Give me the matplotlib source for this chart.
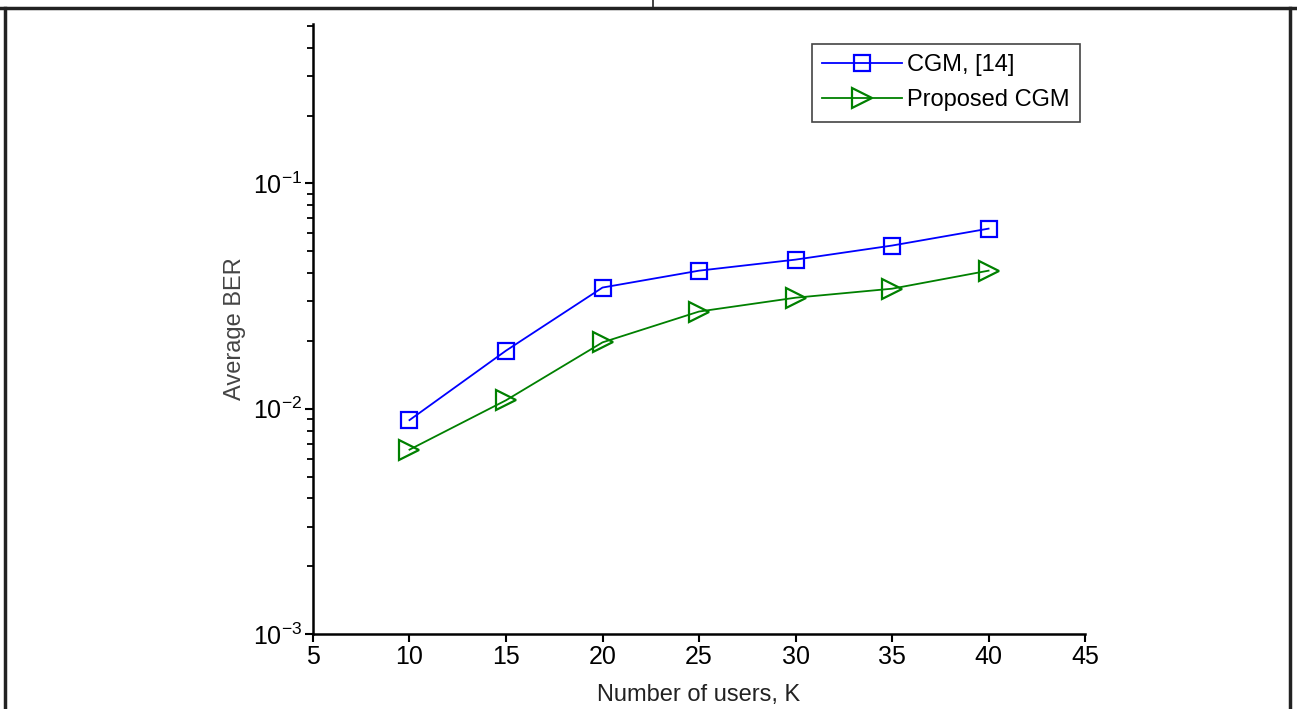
import matplotlib
matplotlib.use("Agg")
import matplotlib.pyplot as plt
from matplotlib.lines import Line2D

plt.rcParams['font.family'] = ['Liberation Sans', 'DejaVu Sans']
plt.rcParams['mathtext.fontset'] = 'custom'
plt.rcParams['mathtext.rm'] = 'Liberation Sans'
plt.rcParams['mathtext.it'] = 'Liberation Sans'

# data
users = [10, 15, 20, 25, 30, 35, 40]
ber_cgm = [0.0089, 0.0181, 0.0345, 0.041, 0.0459, 0.053, 0.063]
ber_proposed = [0.00658, 0.0109, 0.0197, 0.027, 0.0311, 0.0341, 0.041]
x_ticks = [5, 10, 15, 20, 25, 30, 35, 40, 45]

fig = plt.figure(figsize=(12.97, 7.09), dpi=100)
ax = fig.add_axes([0.2413, 0.1058, 0.5953, 0.8603])

ax.semilogy(users, ber_cgm, color='blue', marker='s', markersize=12,
            markerfacecolor='none', markeredgewidth=1.6, linewidth=1.3,
            label='CGM, [14]')
ax.semilogy(users, ber_proposed, color='green', marker='>', markersize=15,
            markerfacecolor='none', markeredgewidth=1.6, linewidth=1.3,
            label='Proposed CGM')

ax.set_xlim(5, 45)
ax.set_ylim(1e-3, 0.51)
ax.set_xticks(x_ticks)
ax.set_xticklabels([str(t) for t in x_ticks])

for side in ['top', 'right']:
    ax.spines[side].set_visible(False)
for side in ['left', 'bottom']:
    ax.spines[side].set_linewidth(1.8)

ax.tick_params(axis='both', which='major', labelsize=18, length=6, width=1.5,
               direction='out', pad=2)
ax.tick_params(axis='y', which='minor', length=4, width=1.3, direction='out')

ax.set_xlabel('Number of users, K', fontsize=17, color='#222222', labelpad=11)
ax.set_ylabel('Average BER', fontsize=17, color='#444444', labelpad=5)

leg = ax.legend(loc='upper right', bbox_to_anchor=(0.994, 0.968), fontsize=17,
                fancybox=False, framealpha=1, edgecolor='#444444',
                handlelength=3.4, borderpad=0.45, labelspacing=0.55,
                handletextpad=0.2, borderaxespad=0)
leg.get_frame().set_linewidth(1.2)

# page frame around the chart
fig.add_artist(Line2D([0, 1], [0.9887, 0.9887], transform=fig.transFigure,
                      color='#222222', linewidth=2.5))
fig.add_artist(Line2D([0.0039, 0.0039], [0, 0.9887], transform=fig.transFigure,
                      color='#222222', linewidth=2.5))
fig.add_artist(Line2D([0.9946, 0.9946], [0, 0.9887], transform=fig.transFigure,
                      color='#222222', linewidth=2.5))
fig.add_artist(Line2D([0.5031, 0.5031], [0.9887, 1], transform=fig.transFigure,
                      color='#222222', linewidth=1.2))

fig.savefig('out.png', dpi=100)
